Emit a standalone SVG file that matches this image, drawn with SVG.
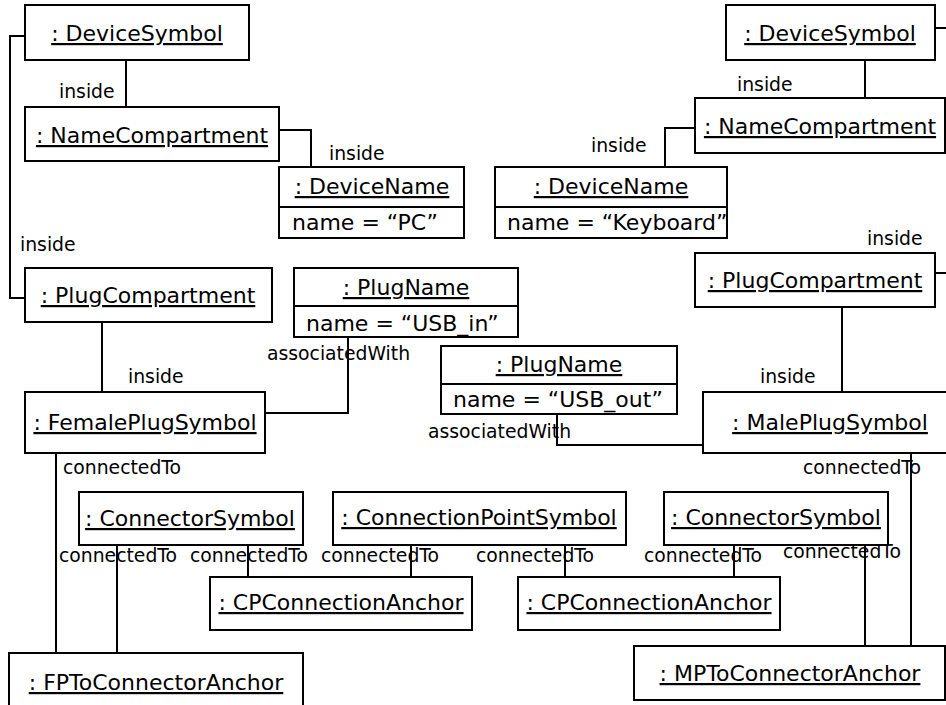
<svg xmlns="http://www.w3.org/2000/svg" width="946" height="705" viewBox="0 0 946 705">
<style>
.box{fill:#fff;stroke:#000;stroke-width:2}
.conn{fill:none;stroke:#000;stroke-width:2}
text{font-family:"DejaVu Sans",Verdana,sans-serif;fill:#000}
.title{font-size:22px;text-anchor:middle;text-decoration:underline}
.attr{font-size:22px}
.lbl{font-size:18.8px}
</style>
<rect width="946" height="705" fill="#fff"/>
<g id="connectors">
<path class="conn" d="M126,60 V107"/>
<path class="conn" d="M279,130 H311 V167"/>
<path class="conn" d="M25,36 H10 V298 H25"/>
<path class="conn" d="M865,60 V98"/>
<path class="conn" d="M695,128 H665 V167"/>
<path class="conn" d="M935,28 H952 V273 H935"/>
<path class="conn" d="M102,322 V392"/>
<path class="conn" d="M265,413 H348 V337"/>
<path class="conn" d="M557,414 V445 H703"/>
<path class="conn" d="M842,307 V392"/>
<path class="conn" d="M56,453 V653"/>
<path class="conn" d="M911,453 V646"/>
<path class="conn" d="M117,545 V653"/>
<path class="conn" d="M248,545 V577"/>
<path class="conn" d="M411,545 V577"/>
<path class="conn" d="M565,545 V577"/>
<path class="conn" d="M734,545 V577"/>
<path class="conn" d="M865,545 V646"/>
<text class="lbl" x="59" y="98">inside</text>
<text class="lbl" x="329" y="160">inside</text>
<text class="lbl" x="20" y="251">inside</text>
<text class="lbl" x="737" y="91">inside</text>
<text class="lbl" x="591" y="152">inside</text>
<text class="lbl" x="867" y="245">inside</text>
<text class="lbl" x="128" y="383">inside</text>
<text class="lbl" x="760" y="383">inside</text>
<text class="lbl" x="267" y="360">associatedWith</text>
<text class="lbl" x="428" y="438">associatedWith</text>
<text class="lbl" x="63" y="474">connectedTo</text>
<text class="lbl" x="803" y="474">connectedTo</text>
<text class="lbl" x="59" y="562">connectedTo</text>
<text class="lbl" x="190" y="562">connectedTo</text>
<text class="lbl" x="321" y="562">connectedTo</text>
<text class="lbl" x="476" y="562">connectedTo</text>
<text class="lbl" x="644" y="562">connectedTo</text>
<text class="lbl" x="783" y="558">connectedTo</text>
</g>
<g id="deviceSymbol1"><rect class="box" x="25" y="5" width="224" height="55"/><text class="title" x="137" y="41">: DeviceSymbol</text></g>
<g id="nameCompartment1"><rect class="box" x="25" y="107" width="254" height="54"/><text class="title" x="152" y="143">: NameCompartment</text></g>
<g id="deviceName1"><rect class="box" x="279" y="167" width="185" height="71"/><line class="conn" x1="279" y1="207" x2="464" y2="207"/><text class="title" x="372" y="194">: DeviceName</text><text class="attr" x="292" y="230">name = “PC”</text></g>
<g id="deviceSymbol2"><rect class="box" x="726" y="5" width="209" height="55"/><text class="title" x="830" y="41">: DeviceSymbol</text></g>
<g id="nameCompartment2"><rect class="box" x="695" y="98" width="250" height="55"/><text class="title" x="820" y="134">: NameCompartment</text></g>
<g id="deviceName2"><rect class="box" x="495" y="167" width="232" height="71"/><line class="conn" x1="495" y1="207" x2="727" y2="207"/><text class="title" x="611" y="194">: DeviceName</text><text class="attr" x="507" y="230">name = “Keyboard”</text></g>
<g id="plugCompartment1"><rect class="box" x="25" y="268" width="247" height="54"/><text class="title" x="148" y="303">: PlugCompartment</text></g>
<g id="plugName1"><rect class="box" x="294" y="268" width="224" height="69"/><line class="conn" x1="294" y1="306" x2="518" y2="306"/><text class="title" x="406" y="295">: PlugName</text><text class="attr" x="306" y="331">name = “USB_in”</text></g>
<g id="femalePlugSymbol"><rect class="box" x="25" y="392" width="240" height="61"/><text class="title" x="145" y="430">: FemalePlugSymbol</text></g>
<g id="plugName2"><rect class="box" x="441" y="346" width="236" height="68"/><line class="conn" x1="441" y1="384" x2="677" y2="384"/><text class="title" x="559" y="372">: PlugName</text><text class="attr" x="453" y="407">name = “USB_out”</text></g>
<g id="plugCompartment2"><rect class="box" x="695" y="253" width="240" height="54"/><text class="title" x="815" y="288">: PlugCompartment</text></g>
<g id="malePlugSymbol"><rect class="box" x="703" y="392" width="254" height="61"/><text class="title" x="830" y="430">: MalePlugSymbol</text></g>
<g id="connectorSymbol1"><rect class="box" x="79" y="492" width="224" height="53"/><text class="title" x="190" y="526">: ConnectorSymbol</text></g>
<g id="connectionPointSymbol"><rect class="box" x="333" y="492" width="293" height="53"/><text class="title" x="479" y="525">: ConnectionPointSymbol</text></g>
<g id="connectorSymbol2"><rect class="box" x="664" y="492" width="224" height="53"/><text class="title" x="776" y="525">: ConnectorSymbol</text></g>
<g id="cpConnectionAnchor1"><rect class="box" x="210" y="577" width="262" height="53"/><text class="title" x="341" y="610">: CPConnectionAnchor</text></g>
<g id="cpConnectionAnchor2"><rect class="box" x="518" y="577" width="262" height="53"/><text class="title" x="649" y="610">: CPConnectionAnchor</text></g>
<g id="fpToConnectorAnchor"><rect class="box" x="9" y="653" width="294" height="56"/><text class="title" x="156" y="690">: FPToConnectorAnchor</text></g>
<g id="mpToConnectorAnchor"><rect class="box" x="634" y="646" width="311" height="54"/><text class="title" x="790" y="681">: MPToConnectorAnchor</text></g>
</svg>
